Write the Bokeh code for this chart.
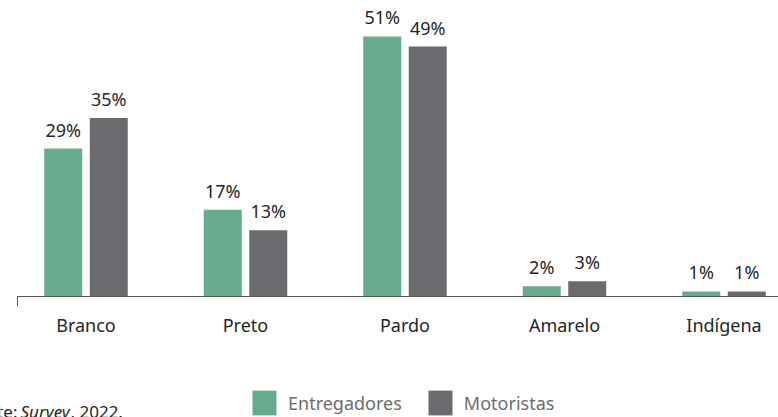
from bokeh.plotting import figure
from bokeh.layouts import column, row
from bokeh.models import (ColumnDataSource, Range1d, FixedTicker, Label, Legend, LegendItem, LinearAxis)
from bokeh.core.properties import value
from bokeh.embed import file_html
from bokeh.resources import INLINE

categories = ["Branco", "Preto", "Pardo", "Amarelo", "Indígena"]
entregadores = [29, 17, 51, 2, 1]
motoristas = [35, 13, 49, 3, 1]
series_names = ["Entregadores", "Motoristas"]
source_parts = ["Fonte:", "Survey", ", 2022."]

GREEN = "#67ab8e"
GRAY = "#6b6b6f"
FONT = "Noto Sans"
TXT = "#262626"

idx = list(range(len(categories)))
px_per_cat = 159.5
off = 22.75 / px_per_cat
bw = 38 / px_per_cat

W = 778
H1, H2 = 350, 67
left = 17
frame_h = 296
x0 = -(85.5 - left) / px_per_cat
x1 = x0 + (W - left) / px_per_cat
ymax = frame_h / 5.1

p = figure(width=W, height=H1, output_backend="svg", toolbar_location=None,
           x_range=Range1d(x0, x1), y_range=Range1d(0, ymax),
           min_border_left=left, min_border_right=0, min_border_top=0,
           min_border_bottom=H1 - frame_h, x_axis_location=None, y_axis_location=None)
p.outline_line_color = None
p.grid.visible = False

src_e = ColumnDataSource(dict(x=[i - off for i in idx], top=entregadores,
                              lab=[f"{v}%" for v in entregadores]))
src_m = ColumnDataSource(dict(x=[i + off for i in idx], top=motoristas,
                              lab=[f"{v}%" for v in motoristas]))

r1 = p.vbar(x="x", top="top", width=bw, bottom=0, source=src_e, fill_color=GREEN, line_color=None)
r2 = p.vbar(x="x", top="top", width=bw, bottom=0, source=src_m, fill_color=GRAY, line_color=None)

for s in (src_e, src_m):
    p.text(x="x", y="top", text="lab", source=s, text_align="center", text_baseline="alphabetic",
           y_offset=-19, text_font=value(FONT), text_font_size="18px", text_color=TXT)

ax = LinearAxis(ticker=FixedTicker(ticks=idx, minor_ticks=[x0]))
ax.major_label_overrides = {i: c for i, c in enumerate(categories)}
ax.major_tick_line_color = None
ax.major_tick_out = 0
ax.major_tick_in = 0
ax.minor_tick_in = 0
ax.minor_tick_out = 10
ax.minor_tick_line_color = "#555555"
ax.axis_line_color = "#555555"
ax.major_label_standoff = 6
ax.major_label_text_font = FONT
ax.major_label_text_font_size = "18px"
ax.major_label_text_color = TXT
p.add_layout(ax, "below")

# lower strip: legend and source note
q = figure(width=W, height=H2, output_backend="svg", toolbar_location=None,
           x_range=Range1d(0, W), y_range=Range1d(H2, 0),
           min_border=0, x_axis_location=None, y_axis_location=None)
q.outline_line_color = None
q.grid.visible = False
g1 = q.vbar(x="x", top="top", width=bw, source=src_e, fill_color=GREEN, line_color=None, visible=False)
g2 = q.vbar(x="x", top="top", width=bw, source=src_m, fill_color=GRAY, line_color=None, visible=False)
legend = Legend(items=[LegendItem(label=series_names[0], renderers=[g1]),
                       LegendItem(label=series_names[1], renderers=[g2])],
                orientation="horizontal", location=(249, -1),
                glyph_width=30, glyph_height=31, label_standoff=9, spacing=23,
                padding=0, margin=0, border_line_color=None, background_fill_alpha=0,
                inactive_fill_alpha=0,
                label_text_font=FONT, label_text_font_size="18px", label_text_color="#6d6d6d",
                label_height=31)
q.add_layout(legend, "center")

src_font = "17px"
y_src = 61
q.add_layout(Label(x=17, y=y_src, text=source_parts[0], text_align="right", text_baseline="alphabetic",
                   text_font=FONT, text_font_size=src_font, text_color=TXT))
q.add_layout(Label(x=20, y=y_src, text=source_parts[1], text_baseline="alphabetic",
                   text_font=FONT, text_font_style="italic", text_font_size=src_font, text_color=TXT))
q.add_layout(Label(x=70, y=y_src, text=source_parts[2], text_baseline="alphabetic",
                   text_font=FONT, text_font_size=src_font, text_color=TXT))

layout = column(p, row(q), spacing=0)
open("out.html", "w").write(file_html(layout, INLINE))
